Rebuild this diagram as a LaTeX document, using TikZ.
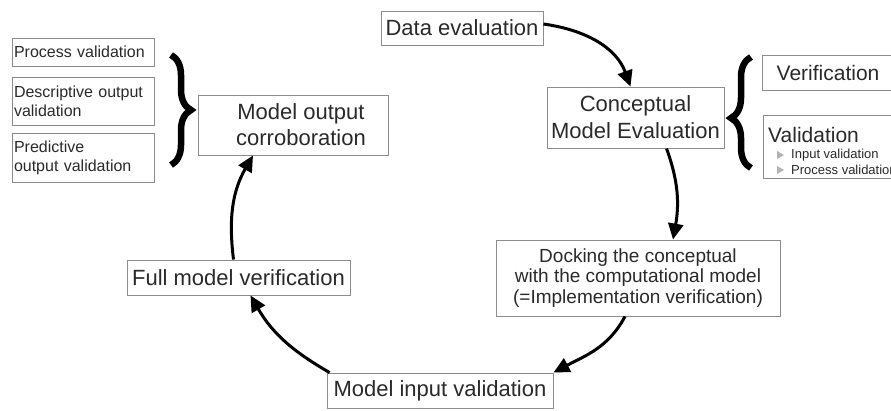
\documentclass[tikz,border=0pt]{standalone}
\usepackage{fontspec}
\setmainfont{Liberation Sans}
\usetikzlibrary{arrows.meta,decorations.pathreplacing}
\definecolor{txt}{HTML}{2A2A2A}
\definecolor{edge}{HTML}{8C8C8C}
\newcommand\fsz[2]{\fontsize{#1pt}{#2pt}\selectfont}
\begin{document}
\begin{tikzpicture}[x=1pt,y=1pt,
  box/.style={draw=edge, line width=0.9pt, text=txt, inner sep=0pt, align=center},
  smallbox/.style={box, minimum width=142pt, text width=138pt, align=left, font=\fsz{16}{19}},
  flow/.style={line width=3pt, -{Triangle[length=16pt,width=15pt]}},
  bracestyle/.style={line width=6.5pt, decorate, decoration={brace, amplitude=20pt, aspect=#1}},
]
\clip (0,0) rectangle (891,-410);
\fill[white] (0,0) rectangle (891,-410);

% left column
\node[smallbox, minimum height=28pt] (pv) at (83,-52) {Process validation};
\node[smallbox, minimum height=48pt] (dov) at (83,-101) {Descriptive output\\validation};
\node[smallbox, minimum height=49pt] (pov) at (83,-157.5) {Predictive\\output validation};
\draw[bracestyle=0.5] (171,-55) -- (171,-165);

% cycle nodes
\node[box, minimum width=190pt, minimum height=60pt, font=\fsz{22}{26}] (moc) at (293,-125) {\hspace*{16pt}Model output\\\hspace*{16pt}corroboration};
\node[box, minimum width=162pt, minimum height=34pt, font=\fsz{22}{26}] (de) at (462,-28) {Data evaluation};
\node[box, minimum width=177pt, minimum height=61pt, font=\fsz{22}{27}] (cme) at (635.5,-117.5) {Conceptual\\Model Evaluation};
\node[box, minimum width=284pt, minimum height=76pt, font=\fsz{19}{20.5}] (dock) at (638,-278) {Docking the conceptual\\with the computational model\\(=Implementation verification)};
\node[box, minimum width=223pt, minimum height=35pt, font=\fsz{22}{26}] (fmv) at (238.5,-277.5) {Full model verification};
\node[box, minimum width=226pt, minimum height=35pt, font=\fsz{22}{26}] (miv) at (440,-390.5) {Model input validation};

% right column
\draw[bracestyle=0.45] (751,-168) -- (751,-57);
\node[box, minimum width=132pt, minimum height=35pt, font=\fsz{21}{25}] (ver) at (828,-72.5) {Verification};
\node[box, minimum width=132pt, minimum height=63pt] (val) at (829,-146.5) {};
\node[anchor=west, inner sep=0pt, text=txt, font=\fsz{21}{25}] (valt) at (768,-135) {Validation};
\node[anchor=west, inner sep=0pt, text=txt, font=\fsz{13}{15}] (iv) at (791,-155) {Input validation};
\node[anchor=west, inner sep=0pt, text=txt, font=\fsz{13}{15}] (prv) at (791,-170) {Process validation};
\fill[gray!60] (777,-151) -- (777,-159) -- (784,-155) -- cycle;
\fill[gray!60] (777,-166) -- (777,-174) -- (784,-170) -- cycle;

% arrows
\draw[flow] ([yshift=4pt]de.east) to[out=-8,in=110] ([xshift=-5pt]cme.north);
\draw[flow] ([xshift=31pt]cme.south) to[out=-70,in=80] ([xshift=35pt]dock.north);
\draw[flow] ([xshift=-13pt]dock.south) to[out=-118,in=28] (miv.north east);
\draw[flow] ([xshift=3pt]miv.north west) to[out=150,in=-60] ([xshift=12pt]fmv.south);
\draw[flow] ([xshift=-5pt]fmv.north) to[out=97,in=-120] ([xshift=-40pt]moc.south);
\end{tikzpicture}
\end{document}
